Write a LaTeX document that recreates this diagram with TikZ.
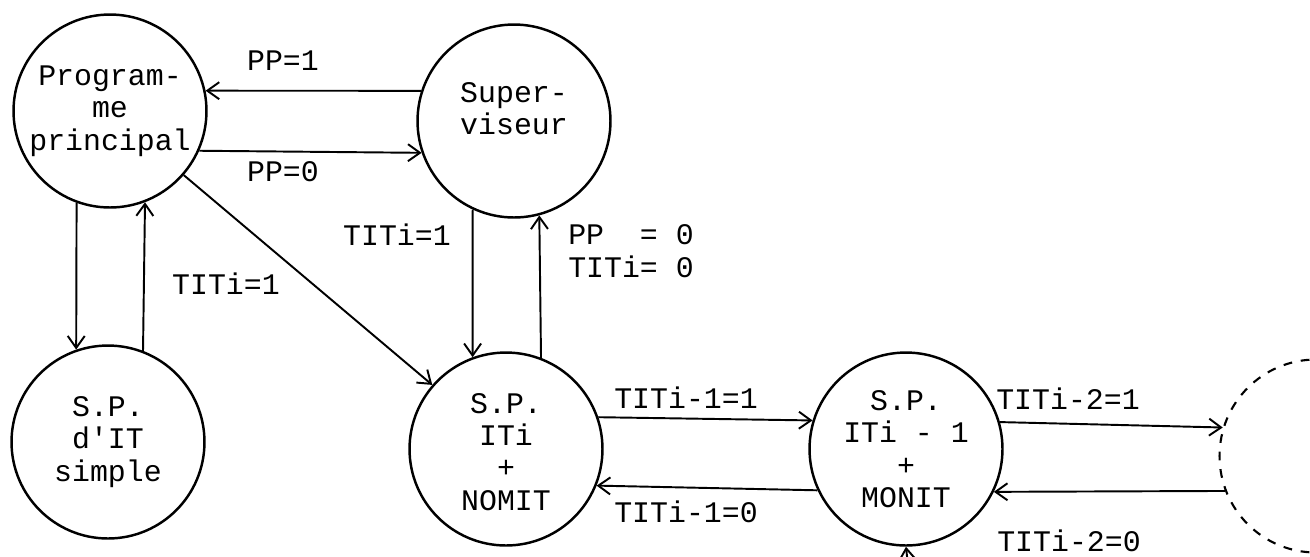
\documentclass[tikz,border=0pt]{standalone}
\usepackage{fontspec}
\setmonofont{Liberation Mono}
\usetikzlibrary{arrows.meta}

\begin{document}
\begin{tikzpicture}[
  x=0.02cm, y=-0.02cm,
  font=\ttfamily\fontsize{17}{18.4}\selectfont,
  etat/.style={circle, draw, line width=1.4pt, minimum size=3.86cm, inner sep=0pt, align=center},
  etatvide/.style={etat, dashed, dash pattern=on 5pt off 5pt, line width=1.2pt},
  flow/.style={-{Straight Barb[length=2.4mm,width=3.4mm]}, line width=1.1pt},
  lbl/.style={inner sep=0.5pt, align=left},
]
\useasboundingbox (0,0) rectangle (1310,556);

% ===== etats =====
\node[etat] (pp)     at (110,111) {Program-\\ me\\principal};
\node[etat] (sup)    at (514,121) {Super-\\viseur\\[-4pt]\mbox{}};
\node[etat] (simple) at (108,442) {S.P.\\d\textquotesingle IT\\simple};
\node[etat] (nomit)  at (506,449) {\mbox{}\\[-4pt]S.P.\\ITi\\+\\NOMIT};
\node[etat] (monit)  at (906,449) {S.P.\\ITi - 1\\+\\MONIT};
\node[etatvide] (nxt) at (1316,456) {};
\coordinate (bas) at (910,585);

% ===== transitions =====
\draw[flow] (sup.162.7) -- (pp.12.5);
\draw[flow] (pp.-24.5) -- (sup.199.3);
\draw[flow] (pp.250.7) -- (simple.109.5);
\draw[flow] (simple.69.3) -- (pp.291.1);
\draw[flow] (pp.-41.7) -- (nomit.139.6);
\draw[flow] (sup.245) -- (nomit.110.1);
\draw[flow] (nomit.69.3) -- (sup.285.6);
\draw[flow] (nomit.19.5) -- (monit.163);
\draw[flow] (monit.205.3) -- (nomit.-22.7);
\draw[flow] (monit.16.3) -- (nxt.163.4);
\draw[flow] (nxt.201.8) -- (monit.-26.3);
\draw[flow] (bas) -- (monit.south);

% ===== conditions =====
\node[lbl] (lpp1) at (283,61)  {PP=1};
\node[lbl] (lpp0) at (283,172) {PP=0};
\node[lbl] (ldia) at (226,284) {TITi=1};
\node[lbl] (lsup) at (397,235) {TITi=1};
\node[lbl] (lret) at (631,251) {PP\ \ = 0\\TITi= 0};
\node[lbl] (l11)  at (686,398) {TITi-1=1};
\node[lbl] (l10)  at (686,512) {TITi-1=0};
\node[lbl] (l21)  at (1068,399) {TITi-2=1};
\node[lbl] (l20)  at (1069,541) {TITi-2=0};

\end{tikzpicture}
\end{document}
